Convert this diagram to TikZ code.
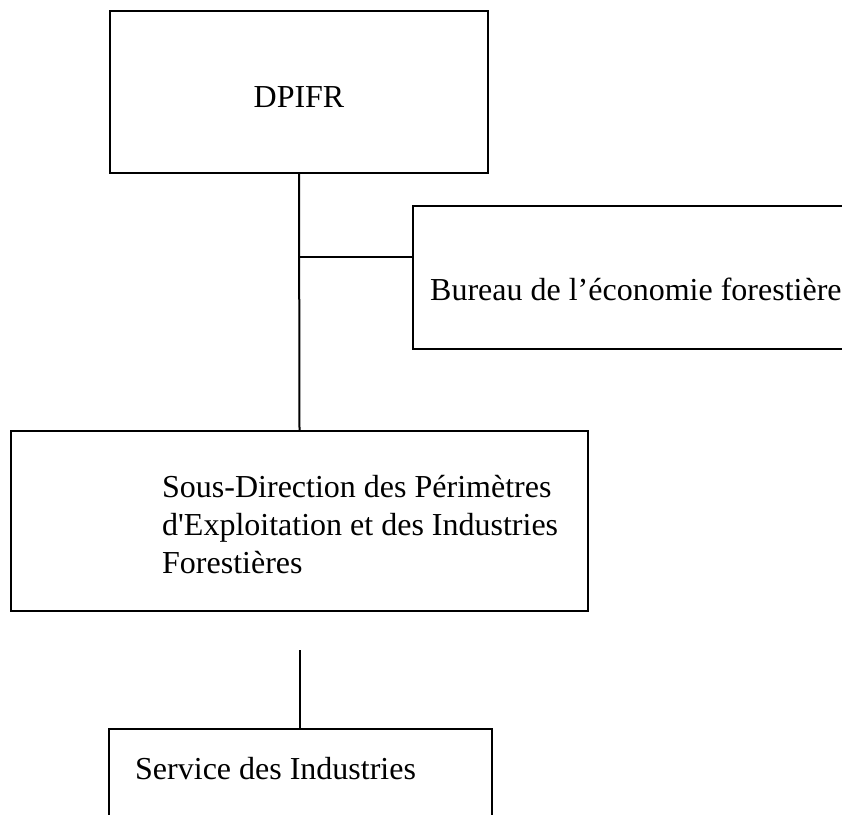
\documentclass[tikz,border=0pt]{standalone}
\usepackage{fontspec}
\setmainfont{Liberation Serif}
\begin{document}
\begin{tikzpicture}[x=1pt,y=-1pt,
  box/.style={draw, line width=2pt, rectangle, inner sep=0pt, anchor=north west},
  lbl/.style={font=\fontsize{32}{38}\selectfont, inner sep=0pt},
  link/.style={line width=2pt}]
\useasboundingbox (0,0) rectangle (842,814);
\fill[white] (0,0) rectangle (842,814);
\begin{scope}
\clip (0,0) rectangle (842,814);
\node[box, minimum width=378pt, minimum height=162pt] (dpifr) at (109,10) {};
\node[lbl] (tdpifr) at (299,97) {DPIFR};
\node[box, minimum width=460pt, minimum height=143pt] (bureau) at (412,205) {};
\node[lbl, anchor=west] (tbureau) at (430,289) {Bureau de l’économie forestière};
\node[box, minimum width=577pt, minimum height=180pt] (sous) at (10,430) {};
\node[lbl, anchor=west, align=left] (tsous) at (162,525) {Sous-Direction des Périmètres\\d\textquotesingle Exploitation et des Industries\\Forestières};
\node[box, minimum width=383pt, minimum height=120pt] (serv) at (108,728) {};
\node[lbl, anchor=west] (tserv) at (135,769) {Service des Industries};
\coordinate (j) at (300,257);
\coordinate (s2) at (300,650);
\draw[link] (dpifr.south) -- (sous.north);
\draw[link] (j) -- (j -| bureau.west);
\draw[link] (s2) -- (s2 |- serv.north);
\end{scope}
\end{tikzpicture}
\end{document}
